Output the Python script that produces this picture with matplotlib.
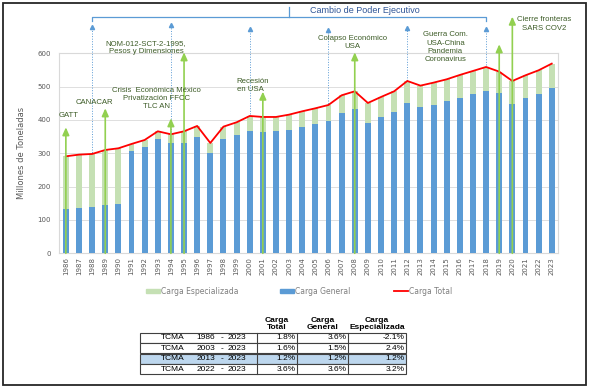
import numpy as np
import matplotlib
matplotlib.use('Agg')
import matplotlib.pyplot as plt
from matplotlib.patches import Rectangle
from matplotlib.lines import Line2D

# ================================ datos
anios = list(range(1986, 2024))
carga_general = [133, 137, 138, 144, 148, 306, 319, 343, 330, 332, 349, 300, 343, 354, 368, 365, 366, 371, 379,
                 388, 397, 422, 433, 392, 409, 423, 452, 438, 445, 456, 467, 477, 486, 480, 447, 466, 479, 496]
carga_especializada = [158, 159, 160, 166, 167, 22, 21, 23, 27, 34, 33, 31, 37, 39, 44, 44, 43, 45, 47,
                       47, 48, 52, 53, 59, 60, 63, 65, 65, 67, 66, 68, 70, 73, 65, 70, 68, 70, 73]
carga_total = [291, 296, 298, 310, 315, 328, 340, 366, 357, 366, 382, 331, 380, 393, 412, 409, 409, 416, 426,
               435, 445, 474, 486, 451, 469, 486, 517, 503, 512, 522, 535, 547, 559, 545, 517, 534, 549, 569]

# eventos (flechas verdes)
eventos = ['GATT', 'CANACAR', 'Crisis  Económica México\nPrivatización FFCC\nTLC AN',
           'NOM-012-SCT-2-1995,\nPesos y Dimensiones', 'Recesión\nen USA', 'Colapso Económico\nUSA',
           'Guerra Com.\nUSA-China\nPandemia\nCoronavirus', 'Cierre fronteras\nSARS COV2']
evento_anio = [1986, 1989, 1994, 1995, 2001, 2008, 2019, 2020]
evento_alto = [378, 435, 405, 603, 485, 603, 627, 710]

# cambio de poder ejecutivo (flechas azules punteadas)
cambio_anio = [1988, 1994, 2000, 2006, 2012, 2018]
cambio_alto = [680, 685, 673, 670, 676, 673]

# tabla TCMA
periodos = [('1986', '2023'), ('2003', '2023'), ('2013', '2023'), ('2022', '2023')]
tcma_total = ['1.8%', '1.6%', '1.2%', '3.6%']
tcma_general = ['3.6%', '1.5%', '1.2%', '3.6%']
tcma_especializada = ['-2.1%', '2.4%', '1.2%', '3.2%']

azul = '#5B9BD5'
verde = '#C5E0B4'
verde_flecha = '#92D050'
texto_verde = '#3D5C27'
gris = '#595959'
narrow = ['Liberation Sans Narrow', 'Liberation Sans', 'DejaVu Sans']

fig = plt.figure(figsize=(5.89, 3.88), dpi=100)
ax = fig.add_axes([59.3/589, 1-253.3/388, (558.3-59.3)/589, (253.3-53.3)/388])

x = np.array(anios)
ax.bar(x, carga_general, width=0.45, color=azul, zorder=3)
ax.bar(x, carga_especializada, bottom=carga_general, width=0.45, color=verde, zorder=3)
ax.plot(x, carga_total, color='#FF0000', lw=1.3, zorder=4)

ax.set_xlim(1985.5, 2023.5)
ax.set_ylim(0, 600)
ax.set_yticks(range(0, 700, 100))
ax.set_xticks(x)
ax.set_xticklabels([str(a) for a in anios], rotation=90, fontsize=5, color=gris)
ax.tick_params(axis='y', labelsize=5, labelcolor=gris, length=0, pad=6)
ax.tick_params(axis='x', length=0, pad=3)
ax.grid(axis='y', color='#D9D9D9', lw=0.6, zorder=0)
ax.set_axisbelow(True)
for s in ax.spines.values():
    s.set_color('#D9D9D9')
    s.set_linewidth(0.8)
ax.set_ylabel('Millones de Toneladas', fontsize=6, color=gris)
ax.yaxis.set_label_coords(-0.066, 0.5)

# flechas cambio de poder
for a, h in zip(cambio_anio, cambio_alto):
    ax.plot([a, a], [0, h - 6], ls=':', color=azul, lw=0.7, clip_on=False, zorder=2)
    ax.plot(a, h, marker='^', ms=3, color=azul, clip_on=False, zorder=2)
ax.plot([cambio_anio[0], cambio_anio[0], cambio_anio[-1], cambio_anio[-1]], [698, 710, 710, 698],
        color=azul, lw=0.9, clip_on=False)
ax.plot([2003, 2003], [710, 738], color=azul, lw=0.9, clip_on=False)
ax.text(2008.8, 728, 'Cambio de Poder Ejecutivo', ha='center', va='center', fontsize=6.5,
        color='#2F5597', family=['Liberation Sans', 'DejaVu Sans'])

# flechas eventos
for a, h in zip(evento_anio, evento_alto):
    ax.annotate('', xy=(a, h), xytext=(a, 0),
                arrowprops=dict(arrowstyle='-|>,head_length=0.45,head_width=0.2', color=verde_flecha,
                                lw=1.2, shrinkA=0, shrinkB=0),
                annotation_clip=False, zorder=5)

texto_pos = [(1986.2, 414, 'center'), (1988.2, 452, 'center'), (1992.9, 465, 'center'),
             (1992.1, 617, 'center'), (1999.0, 503, 'left'), (2007.85, 632, 'center'),
             (2014.9, 618, 'center'), (2022.4, 688, 'center')]
for ev, (tx, ty, al) in zip(eventos, texto_pos):
    ax.text(tx, ty, ev, ha=al, va='center', multialignment=al, fontsize=5.6, color=texto_verde,
            family=narrow, linespacing=1.25, zorder=6)

# capa en pixeles: leyenda, tabla, marco
lay = fig.add_axes([0, 0, 1, 1])
lay.set_xlim(0, 589)
lay.set_ylim(388, 0)
lay.axis('off')

lay.add_patch(Rectangle((3, 3), 583, 382, fill=False, ec='#262626', lw=1.3))

ley = [('Carga Especializada', 146, verde, 'patch'), ('Carga General', 280, azul, 'patch'),
       ('Carga Total', 394, '#FF0000', 'line')]
for txt, lx, c, tipo in ley:
    if tipo == 'patch':
        lay.add_patch(Rectangle((lx, 289), 14, 4, color=c))
    else:
        lay.add_line(Line2D([lx, lx + 14], [291, 291], color=c, lw=1.3))
    lay.text(lx + 15, 291, txt, va='center', ha='left', fontsize=5.5, color='#7F7F7F')

# tabla
arial = ['Liberation Sans', 'DejaVu Sans']
cols = [140, 256.6, 297, 348, 406]
top = 332.7
rh = 10.4
heads = ['Carga\nTotal', 'Carga\nGeneral', 'Carga\nEspecializada']
for i, hd in enumerate(heads):
    lay.text((cols[i+1] + cols[i+2]) / 2, top - 1.5, hd, ha='center', va='bottom', fontsize=6,
             fontweight='bold', family=arial, linespacing=1.05)
for r, (p0, p1) in enumerate(periodos):
    y0 = top + r * rh
    fc = '#BDD7EE' if r == 2 else 'white'
    lay.add_patch(Rectangle((cols[0], y0), cols[-1] - cols[0], rh, fc=fc, ec='#404040', lw=0.8))
    yc = y0 + rh / 2
    lay.text(173, yc, 'TCMA', ha='center', va='center', fontsize=6, family=arial)
    lay.text(206, yc, p0, ha='center', va='center', fontsize=6, family=arial)
    lay.text(222, yc, '-', ha='center', va='center', fontsize=6, family=arial)
    lay.text(237, yc, p1, ha='center', va='center', fontsize=6, family=arial)
    for j, v in enumerate([tcma_total[r], tcma_general[r], tcma_especializada[r]]):
        lay.text(cols[j+2] - 1.5, yc, v, ha='right', va='center', fontsize=6, family=arial)
for cx in cols[1:-1]:
    lay.add_line(Line2D([cx, cx], [top, top + 4 * rh], color='#404040', lw=0.8))

fig.savefig('out.png', dpi=100)
